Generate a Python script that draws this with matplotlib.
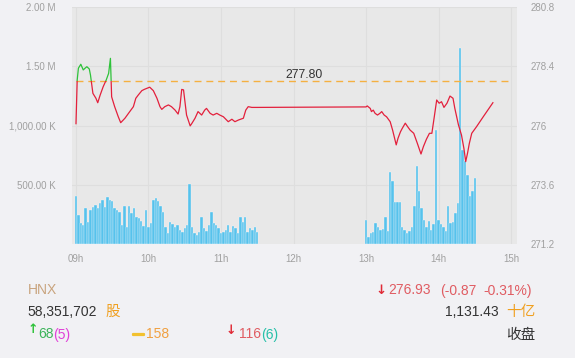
import numpy as np
import matplotlib.pyplot as plt
import matplotlib.patheffects as pe
from matplotlib.patches import Rectangle

plt.rcParams['font.family'] = ['Liberation Sans', 'DejaVu Sans', 'Noto Sans CJK SC']

# Datos -------------------------------------------------------------------
ref_close = 277.80

# minutos desde las 09:00
price_t = [0, 1, 2, 4, 6, 7.5, 9, 11, 12, 14,
           16.5, 18, 20, 22.5, 25, 27, 28.5, 29.5, 32, 35,
           37, 40.5, 44.5, 47.5, 49.5, 51.5, 54.5, 56.5, 58.5, 61,
           64, 67, 69.5, 71, 73.5, 76.5, 79, 82, 84.5, 86,
           87.5, 89, 90, 91.5, 94.5, 96, 98.5, 101, 104, 106.5,
           108, 111, 113.5, 116.5, 119, 122, 126, 129, 131.5, 134.5,
           138.5, 140.5, 142.5, 145.5, 150,
           240, 241, 243.5, 244.5, 246, 247.5, 249.5, 251.5, 253, 255,
           257, 260, 262, 265, 266.5, 268.5, 270, 272.5, 274, 276.5,
           279.5, 282.5, 285.5, 287.5, 290, 292.5, 294.5, 296.5, 298.5, 300.5,
           302.5, 304.5, 307, 309.5, 312, 313.5, 316.5, 319, 321, 322.5,
           324, 325.5, 327.5, 331.5, 337, 345]
price_v = [276.08, 277.85, 278.33, 278.49, 278.26, 278.33, 278.39, 278.30, 278.05, 277.31,
           277.11, 276.93, 277.24, 277.58, 277.85, 278.12, 278.73, 277.17, 276.77, 276.36,
           276.12, 276.30, 276.57, 276.77, 277.11, 277.24, 277.42, 277.47, 277.51, 277.56,
           277.42, 277.11, 276.77, 276.66, 276.77, 276.84, 276.77, 276.63, 276.47, 276.77,
           277.47, 277.45, 277.04, 276.43, 275.99, 276.10, 276.30, 276.57, 276.43, 276.63,
           276.70, 276.50, 276.43, 276.50, 276.43, 276.36, 276.16, 276.26, 276.16, 276.23,
           276.30, 276.63, 276.77, 276.74, 276.74,
           276.76, 276.80, 276.70, 276.57, 276.63, 276.50, 276.43, 276.50, 276.57, 276.43,
           276.36, 276.16, 275.82, 275.22, 275.49, 275.75, 275.89, 276.10, 275.99, 275.82,
           275.69, 275.28, 274.85, 275.15, 275.45, 275.69, 275.69, 276.36, 277.04, 276.91,
           276.97, 276.74, 276.91, 277.20, 277.11, 276.70, 276.03, 275.62, 275.08, 274.54,
           274.88, 275.28, 275.69, 275.96, 276.36, 276.93]

# volumen (miles) cada 2 minutos
vol_am = [405, 246, 180, 160, 300, 190, 290, 310, 330, 300,
          350, 370, 310, 400, 375, 360, 300, 285, 274, 160,
          320, 140, 320, 260, 300, 230, 218, 195, 150, 288,
          140, 175, 370, 390, 360, 320, 270, 140,
          91, 189, 170, 147, 161, 119, 105, 133, 161, 510,
          140, 91, 77, 105, 230, 133, 110, 161, 274, 175,
          161, 133, 91, 105, 119, 161, 105, 150, 133, 91,
          232, 189, 224, 105, 133, 119, 147, 105]
vol_pm = [204, 62, 90, 104, 180, 147, 119, 130, 226, 110,
          605, 530, 359, 359, 359, 147, 119, 90, 110, 140,
          317, 656, 450, 300, 200, 147, 193, 119, 170, 965,
          200, 170, 140, 110, 317, 175, 190, 260, 345, 1653,
          798, 700, 586, 402, 450, 557]

hour_labels = ['09h', '10h', '11h', '12h', '13h', '14h', '15h']
vol_ticks = [500e3, 1000e3, 1500e3, 2000e3]
vol_labels = ['500.00 K', '1,000.00 K', '1.50 M', '2.00 M']
price_ticks = [271.2, 273.6, 276, 278.4, 280.8]
price_labels = ['271.2', '273.6', '276', '278.4', '280.8']

# Grafico -----------------------------------------------------------------
W, H = 575, 358
fig = plt.figure(figsize=(W / 100, H / 100), dpi=100, facecolor='#f1f1f4')
ax = fig.add_axes([72 / W, 1 - 244 / H, (516.7 - 72) / W, (244 - 7.3) / H])
ax.set_facecolor('#e8e8e8')

t_am = np.arange(0, 151, 2)
t_pm = np.arange(240, 331, 2)
ax.bar(t_am, np.array(vol_am) * 1e3, width=2, color='#56c2ec',
       edgecolor='#f4f8fa', linewidth=0.25)
ax.bar(t_pm, np.array(vol_pm) * 1e3, width=2, color='#56c2ec',
       edgecolor='#f4f8fa', linewidth=0.25)

ax.set_xlim(-3.3, 364.7)
ax.set_ylim(0, 2e6)
ax.set_xticks(np.arange(0, 361, 60))
ax.set_xticklabels(hour_labels)
ax.set_yticks(vol_ticks)
ax.set_yticklabels(vol_labels)
ax.grid(True, color='#dedede', linewidth=0.8)
ax.set_axisbelow(True)
ax.tick_params(axis='x', length=0, pad=7, labelsize=7, labelcolor='#a0a0a0')
ax.tick_params(axis='y', length=0, pad=12, labelsize=7, labelcolor='#a0a0a0')
for s in ax.spines.values():
    s.set_visible(False)

ax2 = ax.twinx()
ax2.set_ylim(271.2, 280.8)
ax2.set_yticks(price_ticks)
ax2.set_yticklabels(price_labels)
ax2.tick_params(axis='y', length=0, pad=10, labelsize=7, labelcolor='#a0a0a0')
for s in ax2.spines.values():
    s.set_visible(False)

ax2.plot([0, 360], [ref_close, ref_close], color='#f5b041', lw=1.0,
         dashes=(5, 3.5))
ax2.text(189, ref_close + 0.25, f'{ref_close:.2f}', ha='center', va='center',
         fontsize=8.7, color='#333333')

# rojo debajo del cierre anterior, verde encima
low = Rectangle((-10, 270), 400, ref_close - 270, transform=ax2.transData)
high = Rectangle((-10, ref_close), 400, 10, transform=ax2.transData)
l1, = ax2.plot(price_t, price_v, color='#e3203c', lw=0.9)
l1.set_clip_path(low)
l2, = ax2.plot(price_t, price_v, color='#2ec23a', lw=0.9)
l2.set_clip_path(high)

# Textos inferiores -------------------------------------------------------
def txt(x, y, s, c, ha='left', fs=10, **kw):
    fig.text(x / W, 1 - y / H, s, color=c, ha=ha, va='center', fontsize=fs, **kw)

arrow_font = ['DejaVu Sans']
txt(27.5, 290.5, 'HNX', '#c9a47e')
txt(375.5, 290.5, '↓', '#e02a36', fs=9.5, family=arrow_font, fontweight='bold')
txt(388.3, 290.5, '276.93', '#e05c62')
txt(440, 290.5, '(-0.87', '#e05c62')
txt(483.3, 290.5, '-0.31%)', '#e05c62')
txt(27.5, 312, '58,351,702', '#333333')
txt(106, 312, '股', '#f0a020', fs=10.5)
txt(498.5, 312, '1,131.43', '#333333', ha='right')
txt(506.5, 312, '十亿', '#f0a020', fs=10.5)
txt(28, 329.5, '↑', '#2ec23a', fs=9, family=arrow_font, fontweight='bold')
txt(38.5, 334.5, '68', '#3cb45a')
txt(53.5, 334.5, '(5)', '#e040d8')
txt(133, 334.5, '—', '#f2c12e', fs=8,
    path_effects=[pe.withStroke(linewidth=1.6, foreground='#f2c12e')])
txt(146, 334.5, '158', '#f0a040')
txt(225.5, 330, '↓', '#e02a36', fs=9, family=arrow_font, fontweight='bold')
txt(238.5, 334.5, '116', '#e05c62')
txt(261.5, 334.5, '(6)', '#26c0a8')
txt(535, 334.5, '收盘', '#333333', ha='right', fs=10.5)

fig.savefig('out.png', dpi=100, facecolor=fig.get_facecolor())
